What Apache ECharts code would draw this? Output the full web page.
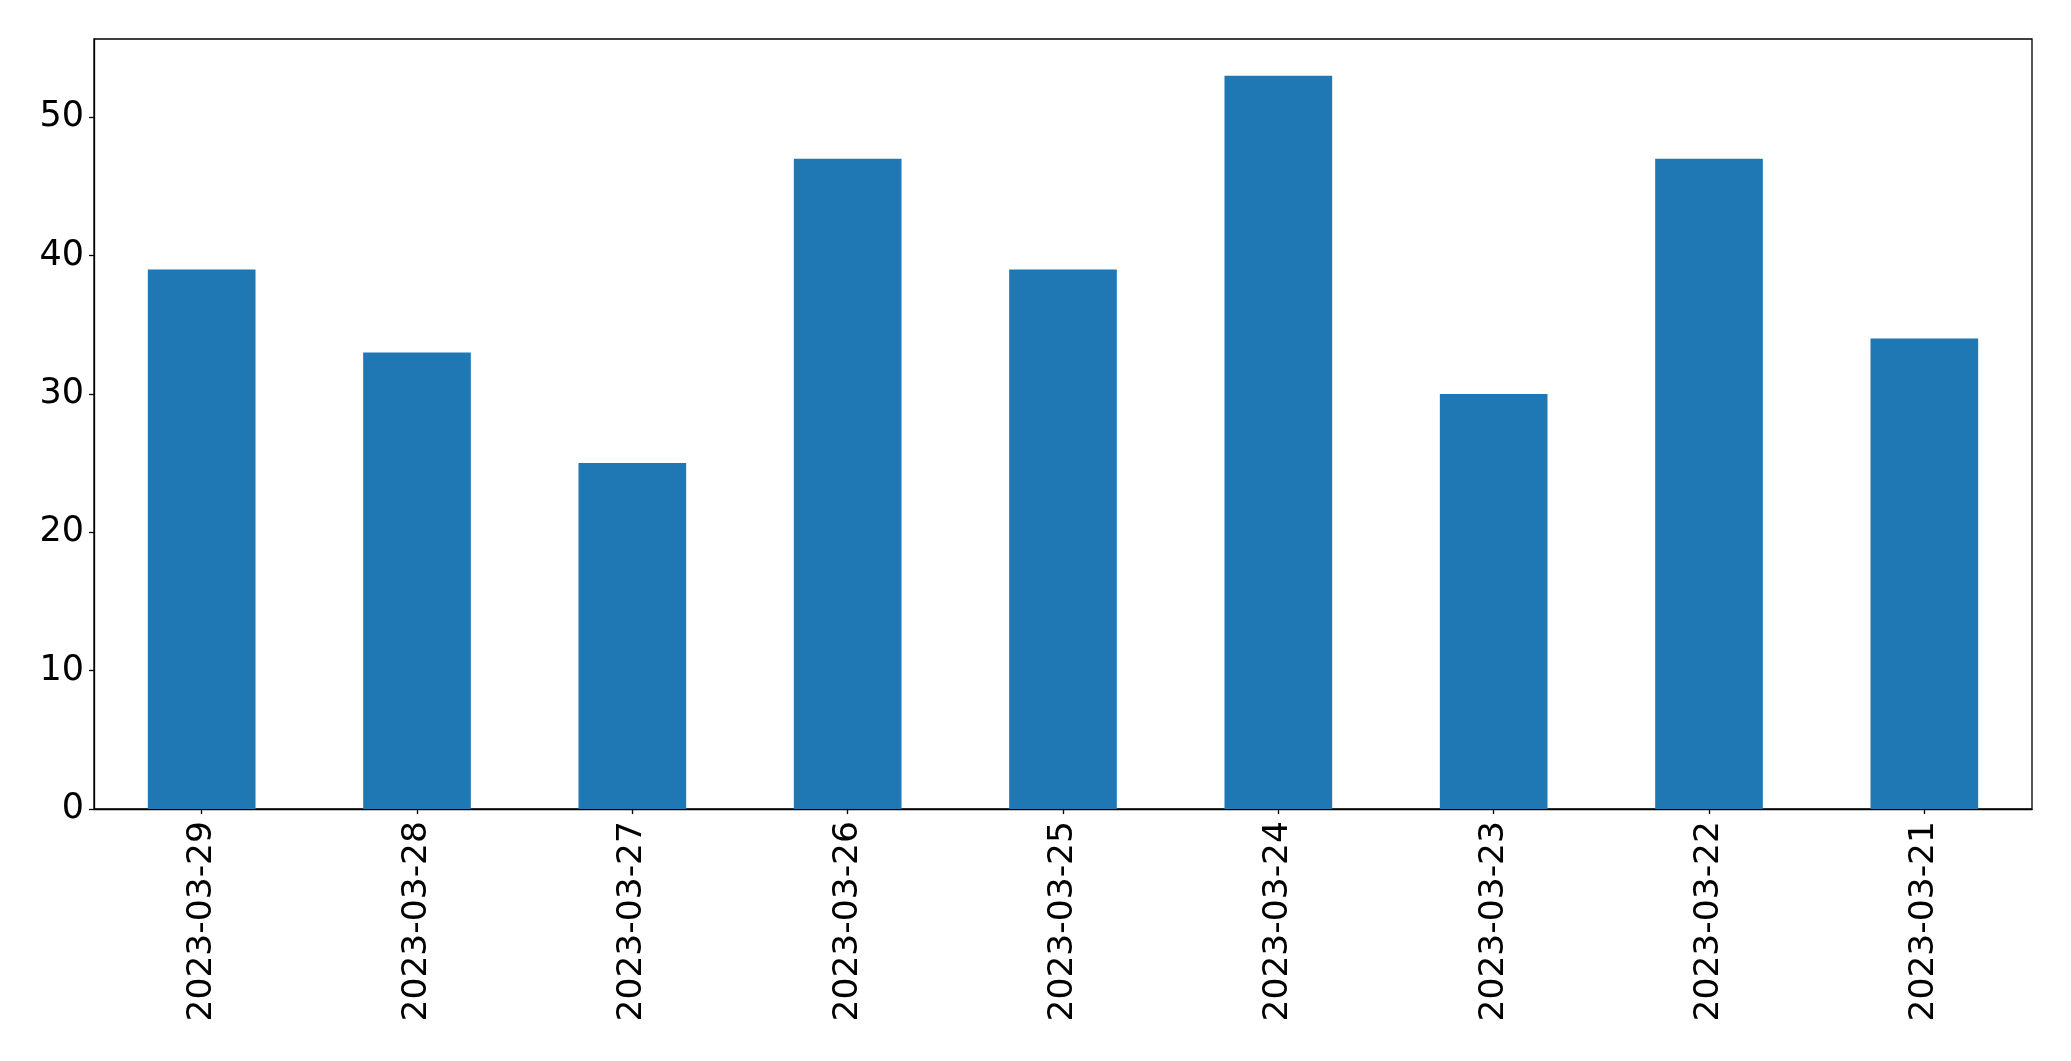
<!DOCTYPE html>
<html>
<head>
<meta charset="utf-8">
<script src="https://cdn.jsdelivr.net/npm/echarts@6/dist/echarts.min.js"></script>
<style>
html,body{margin:0;padding:0;background:#fff;}
#chart{width:2071px;height:1061px;}
</style>
</head>
<body>
<div id="chart"></div>
<script>
const categories = ["2023-03-29","2023-03-28","2023-03-27","2023-03-26","2023-03-25","2023-03-24","2023-03-23","2023-03-22","2023-03-21"];
const values = [39, 33, 25, 47, 39, 53, 30, 47, 34];
const yTicks = [0, 10, 20, 30, 40, 50];

const chart = echarts.init(document.getElementById('chart'), null, {renderer: 'canvas'});
const font = 'DejaVu Sans';
chart.setOption({
  animation: false,
  backgroundColor: '#ffffff',
  grid: {
    left: 94, right: 39, top: 39, bottom: 252,
    show: true, borderColor: '#000', borderWidth: 1.3, backgroundColor: 'transparent'
  },
  xAxis: {
    type: 'category',
    data: categories,
    axisLine: {show: true, lineStyle: {color: '#000', width: 1.3}},
    axisTick: {show: true, alignWithLabel: true, length: 5, lineStyle: {color: '#000', width: 1.3}},
    axisLabel: {rotate: 90, color: '#000', fontFamily: font, fontSize: 34.5, margin: 12, interval: 0}
  },
  yAxis: {
    type: 'value',
    min: 0,
    max: 55.65,
    interval: 10,
    splitLine: {show: false},
    axisLine: {show: true, lineStyle: {color: '#000', width: 1.3}},
    axisTick: {show: true, length: 5, customValues: yTicks, lineStyle: {color: '#000', width: 1.3}},
    axisLabel: {
      color: '#000', fontFamily: font, fontSize: 35, margin: 10,
      customValues: yTicks,
      formatter: function (v) { return yTicks.indexOf(v) >= 0 ? String(v) : ''; }
    }
  },
  series: [{
    type: 'bar',
    data: values,
    barWidth: '50%',
    itemStyle: {color: '#1f77b4'}
  }]
});
</script>
</body>
</html>
